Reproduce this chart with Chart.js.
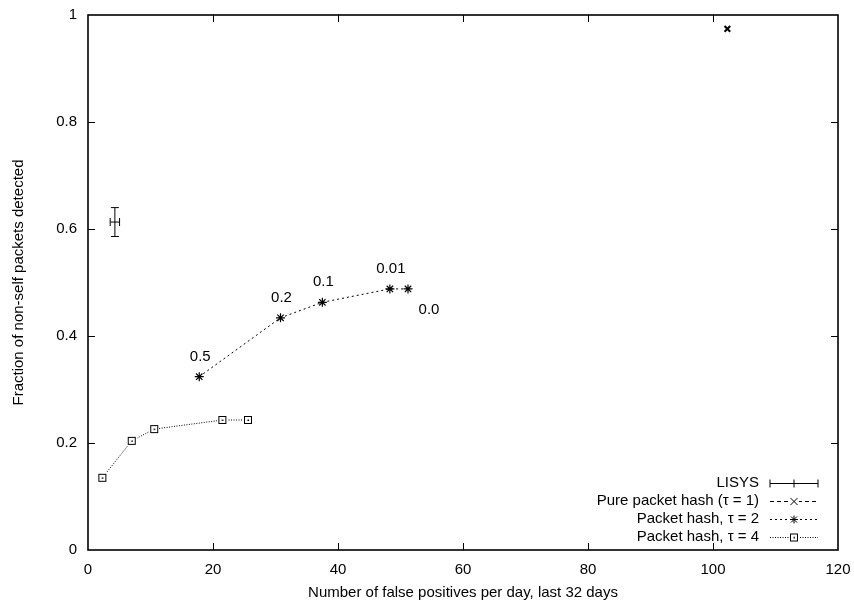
<!DOCTYPE html>
<html>
<head>
<meta charset="utf-8">
<script src="https://cdn.jsdelivr.net/npm/chart.js@4.4.0/dist/chart.umd.min.js"></script>
<style>
  html, body { margin: 0; padding: 0; background: #fff; }
  #wrap { width: 854px; height: 604px; }
</style>
</head>
<body>
<div id="wrap"><canvas id="chart"></canvas></div>
<script>
const xTicks = [0, 20, 40, 60, 80, 100, 120]
const yTicks = [0, 0.2, 0.4, 0.6, 0.8, 1]

const lisysX = [4.3]
const lisysY = [0.613]
const lisysXErr = [0.75]
const lisysYErr = [0.027]

const pureX = [102.3]
const pureY = [0.974]

const tau2X = [17.8, 30.8, 37.5, 48.3, 51.2]
const tau2Y = [0.324, 0.434, 0.463, 0.488, 0.488]
const tau2Labels = ["0.5", "0.2", "0.1", "0.01", "0.0"]

const tau4X = [2.3, 7.0, 10.6, 21.5, 25.6]
const tau4Y = [0.135, 0.204, 0.226, 0.243, 0.243]

const legendLabels = ["LISYS", "Pure packet hash (τ = 1)", "Packet hash, τ = 2", "Packet hash, τ = 4"]

const FONT = "'Liberation Sans', Arial, Helvetica, sans-serif"

const toPoints = (xs, ys) => xs.map((x, i) => ({ x: x, y: ys[i] }))

// small boxed square with a dot, like gnuplot point type 4
function boxPoint() {
  const c = document.createElement("canvas")
  c.width = 10
  c.height = 10
  const g = c.getContext("2d")
  g.fillStyle = "#fff"
  g.fillRect(0, 0, 10, 10)
  g.strokeStyle = "#000"
  g.lineWidth = 1
  g.strokeRect(1.5, 1.5, 7, 7)
  g.fillStyle = "#000"
  g.fillRect(4.5, 4.5, 1.5, 1.5)
  return c
}
const boxImg = boxPoint()

function drawStar(ctx, x, y, r) {
  ctx.beginPath()
  ctx.moveTo(x - r, y); ctx.lineTo(x + r, y)
  ctx.moveTo(x, y - r); ctx.lineTo(x, y + r)
  ctx.moveTo(x - r * 0.75, y - r * 0.75); ctx.lineTo(x + r * 0.75, y + r * 0.75)
  ctx.moveTo(x - r * 0.75, y + r * 0.75); ctx.lineTo(x + r * 0.75, y - r * 0.75)
  ctx.stroke()
}

const framePlugin = {
  id: "frame",
  afterDatasetsDraw(chart) {
    const { ctx, chartArea: a, scales } = chart
    const xs = scales.x, ys = scales.y
    ctx.save()
    ctx.strokeStyle = "#000"
    ctx.lineWidth = 1
    // inward ticks, mirrored
    ctx.beginPath()
    xTicks.forEach(v => {
      const px = Math.round(xs.getPixelForValue(v)) + 0.5
      if (v === xTicks[0] || v === xTicks[xTicks.length - 1]) return
      ctx.moveTo(px, a.bottom); ctx.lineTo(px, a.bottom - 7)
      ctx.moveTo(px, a.top); ctx.lineTo(px, a.top + 7)
    })
    yTicks.forEach(v => {
      const py = Math.round(ys.getPixelForValue(v)) + 0.5
      if (v === yTicks[0] || v === yTicks[yTicks.length - 1]) return
      ctx.moveTo(a.left, py); ctx.lineTo(a.left + 7, py)
      ctx.moveTo(a.right, py); ctx.lineTo(a.right - 7, py)
    })
    ctx.stroke()
    ctx.lineWidth = 1.6
    ctx.strokeRect(a.left, a.top, a.right - a.left, a.bottom - a.top)

    // LISYS error bars
    ctx.lineWidth = 1
    lisysX.forEach((x, i) => {
      const cx = xs.getPixelForValue(x), cy = ys.getPixelForValue(lisysY[i])
      const x0 = xs.getPixelForValue(x - lisysXErr[i]), x1 = xs.getPixelForValue(x + lisysXErr[i])
      const y0 = ys.getPixelForValue(lisysY[i] - lisysYErr[i]), y1 = ys.getPixelForValue(lisysY[i] + lisysYErr[i])
      ctx.beginPath()
      ctx.moveTo(x0, cy); ctx.lineTo(x1, cy)
      ctx.moveTo(x0, cy - 4); ctx.lineTo(x0, cy + 4)
      ctx.moveTo(x1, cy - 4); ctx.lineTo(x1, cy + 4)
      ctx.moveTo(cx, y0); ctx.lineTo(cx, y1)
      ctx.moveTo(cx - 4, y0); ctx.lineTo(cx + 4, y0)
      ctx.moveTo(cx - 4, y1); ctx.lineTo(cx + 4, y1)
      ctx.stroke()
    })

    // threshold labels next to the tau = 2 points
    ctx.fillStyle = "#000"
    ctx.font = "15px " + FONT
    ctx.textAlign = "center"
    ctx.textBaseline = "middle"
    tau2Labels.forEach((t, i) => {
      const px = xs.getPixelForValue(tau2X[i]), py = ys.getPixelForValue(tau2Y[i])
      if (i === tau2Labels.length - 1) {
        ctx.fillText(t, px + 21, py + 21)
      } else {
        ctx.fillText(t, px + 1, py - 20)
      }
    })

    // legend, gnuplot style: text right aligned, sample on the right
    const textRight = 759, s0 = 770, s1 = 818, sm = (s0 + s1) / 2
    const rows = [483, 501, 519, 537]
    ctx.textAlign = "right"
    legendLabels.forEach((t, i) => ctx.fillText(t, textRight, rows[i]))
    ctx.lineWidth = 1
    // LISYS sample
    let ry = rows[0] + 0.5
    ctx.beginPath()
    ctx.moveTo(s0, ry); ctx.lineTo(s1, ry)
    ctx.moveTo(s0, ry - 4); ctx.lineTo(s0, ry + 4)
    ctx.moveTo(s1, ry - 4); ctx.lineTo(s1, ry + 4)
    ctx.moveTo(sm, ry - 4); ctx.lineTo(sm, ry + 4)
    ctx.stroke()
    // tau 1
    ry = rows[1] + 0.5
    ctx.setLineDash([4, 3])
    ctx.beginPath(); ctx.moveTo(s0, ry); ctx.lineTo(s1, ry); ctx.stroke()
    ctx.setLineDash([])
    ctx.fillStyle = "#fff"; ctx.fillRect(sm - 5, ry - 5, 10, 10)
    ctx.beginPath()
    ctx.moveTo(sm - 3.5, ry - 3.5); ctx.lineTo(sm + 3.5, ry + 3.5)
    ctx.moveTo(sm - 3.5, ry + 3.5); ctx.lineTo(sm + 3.5, ry - 3.5)
    ctx.stroke()
    // tau 2
    ry = rows[2] + 0.5
    ctx.setLineDash([2, 3])
    ctx.beginPath(); ctx.moveTo(s0, ry); ctx.lineTo(s1, ry); ctx.stroke()
    ctx.setLineDash([])
    ctx.fillRect(sm - 5, ry - 5, 10, 10)
    drawStar(ctx, sm, ry, 4)
    // tau 4
    ry = rows[3] + 0.5
    ctx.setLineDash([1, 1.5])
    ctx.beginPath(); ctx.moveTo(s0, ry); ctx.lineTo(s1, ry); ctx.stroke()
    ctx.setLineDash([])
    ctx.drawImage(boxImg, sm - 5, ry - 5)
    ctx.restore()
  }
}

const tickOpts = {
  font: { family: FONT, size: 15 },
  color: "#000",
  padding: 11,
  maxRotation: 0,
  autoSkip: false,
  callback: v => String(+Number(v).toFixed(1))
}

new Chart(document.getElementById("chart"), {
  type: "scatter",
  data: {
    datasets: [
      {
        label: legendLabels[1],
        data: toPoints(pureX, pureY),
        showLine: true,
        borderColor: "#000",
        borderWidth: 1,
        borderDash: [4, 3],
        pointStyle: "crossRot",
        pointRadius: 4,
        pointBorderWidth: 2,
        pointBorderColor: "#000"
      },
      {
        label: legendLabels[2],
        data: toPoints(tau2X, tau2Y),
        showLine: true,
        borderColor: "#000",
        borderWidth: 1,
        borderDash: [2, 3],
        pointStyle: "star",
        pointRadius: 4.5,
        pointBorderWidth: 1.2,
        pointBorderColor: "#000"
      },
      {
        label: legendLabels[3],
        data: toPoints(tau4X, tau4Y),
        showLine: true,
        borderColor: "#000",
        borderWidth: 1,
        borderDash: [1, 1.5],
        pointStyle: boxImg,
        pointRadius: 5
      }
    ]
  },
  options: {
    responsive: true,
    maintainAspectRatio: false,
    animation: false,
    layout: { padding: { left: 0, right: 16, top: 15, bottom: 0 } },
    plugins: {
      legend: { display: false },
      tooltip: { enabled: false }
    },
    scales: {
      x: {
        type: "linear",
        min: 0,
        max: 120,
        afterBuildTicks: s => { s.ticks = xTicks.map(v => ({ value: v })) },
        afterFit: s => { s.height = 54; s.paddingLeft = 0; s.paddingRight = 0 },
        grid: { display: false, drawTicks: false },
        border: { display: false },
        ticks: tickOpts,
        title: {
          display: true,
          text: "Number of false positives per day, last 32 days",
          font: { family: FONT, size: 15 },
          color: "#000",
          padding: { top: 4, bottom: 2 }
        }
      },
      y: {
        type: "linear",
        min: 0,
        max: 1,
        afterBuildTicks: s => { s.ticks = yTicks.map(v => ({ value: v })) },
        afterFit: s => { s.width = 88; s.paddingTop = 0; s.paddingBottom = 0 },
        grid: { display: false, drawTicks: false },
        border: { display: false },
        ticks: tickOpts,
        title: {
          display: true,
          text: "Fraction of non-self packets detected",
          font: { family: FONT, size: 15 },
          color: "#000",
          padding: { top: 10, bottom: 4 }
        }
      }
    }
  },
  plugins: [framePlugin]
})
</script>
</body>
</html>
